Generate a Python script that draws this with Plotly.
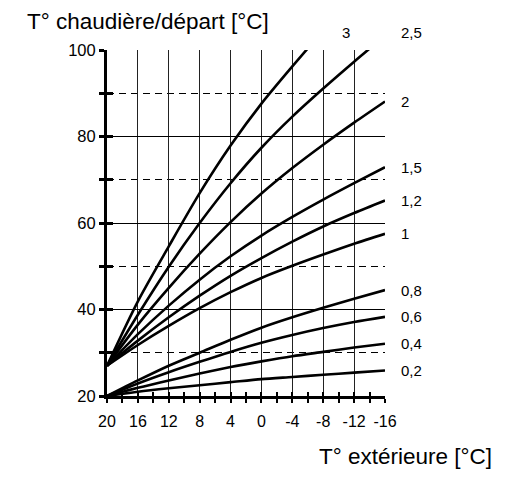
import plotly.graph_objects as go

# ---- data ----
t_ext = [20, 16, 12, 8, 4, 0, -4, -8, -12, -16]

curve_02 = [20, 21.0, 21.8, 22.5, 23.2, 23.9, 24.4, 24.9, 25.4, 25.9]
curve_04 = [20, 21.9, 23.6, 25.2, 26.7, 28.0, 29.2, 30.2, 31.2, 32.1]
curve_06 = [20, 22.9, 25.5, 27.9, 30.2, 32.3, 34.1, 35.7, 37.1, 38.3]
curve_08 = [20, 23.6, 27.0, 30.0, 33.0, 35.8, 38.2, 40.4, 42.5, 44.5]
curve_10 = [27, 31.8, 36.2, 40.3, 44.0, 47.3, 50.1, 52.7, 55.2, 57.5]
curve_12 = [27, 32.8, 38.2, 43.2, 47.8, 51.9, 55.7, 59.2, 62.3, 65.2]
curve_15 = [27, 34.3, 40.9, 46.9, 52.3, 57.1, 61.4, 65.4, 69.2, 72.9]
curve_20 = [27, 36.5, 45.0, 52.9, 60.2, 66.8, 72.7, 78.1, 83.2, 88.1]
curve_25 = [27, 38.8, 49.9, 60.0, 69.2, 77.4, 84.6, 91.1, 97.3, 103.3]
curve_30 = [27, 41.9, 54.6, 66.9, 77.9, 87.6, 96.2, 104.5]

curve_names = ["0,2", "0,4", "0,6", "0,8", "1", "1,2", "1,5", "2", "2,5", "3"]
curves = [curve_02, curve_04, curve_06, curve_08, curve_10,
          curve_12, curve_15, curve_20, curve_25, curve_30]

x_tick_vals = [20, 16, 12, 8, 4, 0, -4, -8, -12, -16]
x_tick_text = ["20", "16", "12", "8", "4", "0", "-4", "-8", "-12", "-16"]
x_minor_vals = [18, 14, 10, 6, 2, -2, -6, -10, -14]
y_tick_vals = [20, 40, 60, 80, 100]
y_minor_vals = [30, 50, 70, 90]

y_title = "T° chaudière/départ [°C]"
x_title = "T° extérieure [°C]"

FONT = "Arial, Liberation Sans, Helvetica, sans-serif"

fig = go.Figure()
for name, vals in zip(curve_names, curves):
    fig.add_trace(go.Scatter(
        x=t_ext[:len(vals)], y=vals, mode="lines", name=name,
        line=dict(color="black", width=2.6, shape="spline", smoothing=0.8),
        showlegend=False, hoverinfo="skip"))

# invisible trace on the overlaying axes so they render
fig.add_trace(go.Scatter(x=[20], y=[20], xaxis="x2", yaxis="y2",
                         mode="markers", marker=dict(opacity=0),
                         showlegend=False, hoverinfo="skip"))

label_font = dict(size=15, color="black", family=FONT)
# curve labels
for name, vals in zip(curve_names, curves):
    if vals[-1] <= 100 and len(vals) == len(t_ext):
        fig.add_annotation(x=t_ext[-1], y=vals[-1], text=name, showarrow=False,
                           xanchor="left", yanchor="middle", xshift=14,
                           font=label_font)
    elif name == "2,5":
        fig.add_annotation(x=t_ext[-1], yref="paper", y=1.05, text=name,
                           showarrow=False, xanchor="left", yanchor="middle",
                           xshift=14, font=label_font)
    else:
        fig.add_annotation(x=-11, yref="paper", y=1.05, text=name,
                           showarrow=False, xanchor="center", yanchor="middle",
                           font=label_font)

fig.add_annotation(xref="paper", yref="paper", x=-0.294, y=1.0838,
                   text=y_title, showarrow=False, xanchor="left", yanchor="middle",
                   font=dict(size=22.5, color="black", family=FONT))
fig.add_annotation(xref="paper", yref="paper", x=1.392, y=-0.1763,
                   text=x_title, showarrow=False, xanchor="right", yanchor="middle",
                   font=dict(size=22.5, color="black", family=FONT))

grid_col = "#222222"
fig.update_layout(
    width=489, height=461,
    margin=dict(l=99, r=112, t=42, b=73),
    paper_bgcolor="white", plot_bgcolor="white",
    font=dict(family=FONT, color="black"),
    xaxis=dict(
        range=[20, -16], tickmode="array", tickvals=x_tick_vals, ticktext=x_tick_text,
        showgrid=True, gridcolor=grid_col, gridwidth=1, zeroline=False,
        showline=True, linecolor="black", linewidth=3,
        ticks="outside", ticklen=4, tickwidth=2, tickcolor="black",
        ticklabelstandoff=5,
        tickfont=dict(size=16, color="black", family=FONT),
        minor=dict(tickmode="array", tickvals=x_minor_vals, ticks="outside",
                   ticklen=4, tickwidth=2, tickcolor="black", showgrid=False),
    ),
    xaxis2=dict(
        range=[20, -16], overlaying="x", anchor="y", side="bottom",
        tickmode="array", tickvals=x_tick_vals, showticklabels=False,
        showgrid=False, zeroline=False, showline=False,
        ticks="inside", ticklen=4, tickwidth=2, tickcolor="black",
        minor=dict(tickmode="array", tickvals=x_minor_vals, ticks="inside",
                   ticklen=4, tickwidth=2, tickcolor="black", showgrid=False),
    ),
    yaxis=dict(
        range=[20, 100], tickmode="array", tickvals=y_tick_vals,
        showgrid=True, gridcolor="black", gridwidth=1, zeroline=False,
        showline=True, linecolor="black", linewidth=3,
        ticks="outside", ticklen=5, tickwidth=3, tickcolor="black",
        tickfont=dict(size=16.5, color="black", family=FONT),
        minor=dict(tickmode="array", tickvals=y_minor_vals, ticks="outside",
                   ticklen=5, tickwidth=3, tickcolor="black",
                   showgrid=True, gridcolor="black", gridwidth=1,
                   griddash="7px,5px"),
    ),
    yaxis2=dict(
        range=[20, 100], overlaying="y", anchor="x", side="left",
        tickmode="array", tickvals=y_tick_vals, showticklabels=False,
        showgrid=False, zeroline=False, showline=False,
        ticks="inside", ticklen=6, tickwidth=3, tickcolor="black",
        minor=dict(tickmode="array", tickvals=y_minor_vals, ticks="inside",
                   ticklen=6, tickwidth=3, tickcolor="black", showgrid=False),
    ),
)

fig.write_html("out.html")
